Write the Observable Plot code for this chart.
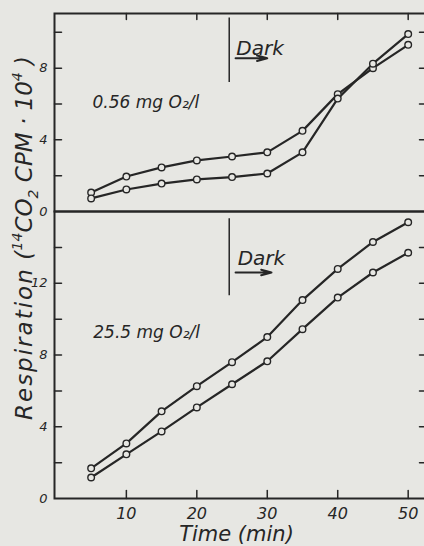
<!DOCTYPE html>
<html>
<head>
<meta charset="utf-8">
<script src="https://cdn.jsdelivr.net/npm/d3@7"></script>
<script src="https://cdn.jsdelivr.net/npm/@observablehq/plot@0.6"></script>
<style>
  html, body { margin: 0; padding: 0; background: #e7e7e3; overflow: hidden; }
  #fig { position: relative; width: 424px; height: 546px; overflow: hidden; background: #e7e7e3; }
  #fig svg { position: absolute; left: 0; max-width: none !important; }
</style>
</head>
<body>
<div id="fig"></div>
<script>
// Cumulative respiration (14CO2 CPM x 10^4), sampled every 5 min
const times = [5, 10, 15, 20, 25, 30, 35, 40, 45, 50];

// 0.56 mg O2/l
const lowO2SeriesA = [1.06, 1.95, 2.46, 2.85, 3.07, 3.30, 4.50, 6.55, 8.00, 9.30];
const lowO2SeriesB = [0.73, 1.23, 1.56, 1.79, 1.92, 2.12, 3.30, 6.30, 8.25, 9.90];

// 25.5 mg O2/l
const highO2SeriesA = [1.68, 3.07, 4.86, 6.26, 7.60, 9.00, 11.06, 12.80, 14.30, 15.40];
const highO2SeriesB = [1.17, 2.46, 3.74, 5.08, 6.37, 7.65, 9.44, 11.20, 12.60, 13.70];

// Axis ticks
const timeTicks = [10, 20, 30, 40, 50];
const lowLabelTicks = [0, 4, 8];
const highLabelTicks = [0, 4, 8, 12];
const lowTickMarks = [2, 4, 6, 8, 10];
const highTickMarks = [2, 4, 6, 8, 10, 12, 14];

// Onset of darkness (min)
const darkStart = 24.6;

const ink = "#262626";
const paper = "#e7e7e3";
const font = "DejaVu Sans, Verdana, sans-serif";

const rows = (a, b) => times.flatMap((t, i) => [
  {t, v: a[i], s: "A"},
  {t, v: b[i], s: "B"}
]);

// Short inward tick drawn along the vector direction
const tickShape = {draw(context, l) { context.moveTo(0, 0); context.lineTo(0, -l); }};

function tickMarks(yTicks, withTop, withBottom) {
  const marks = [
    Plot.vector(yTicks, {y: d => d, frameAnchor: "left", rotate: 90, length: 7, anchor: "start", shape: tickShape, stroke: ink, strokeWidth: 1.5}),
    Plot.vector(yTicks, {y: d => d, frameAnchor: "right", rotate: -90, length: 7, anchor: "start", shape: tickShape, stroke: ink, strokeWidth: 1.5})
  ];
  if (withTop) marks.push(Plot.vector(timeTicks, {x: d => d, frameAnchor: "top", rotate: 180, length: 6, anchor: "start", shape: tickShape, stroke: ink, strokeWidth: 1.5}));
  if (withBottom) marks.push(Plot.vector(timeTicks, {x: d => d, frameAnchor: "bottom", rotate: 0, length: 8, anchor: "start", shape: tickShape, stroke: ink, strokeWidth: 1.5}));
  return marks;
}

function series(data) {
  return [
    Plot.line(data, {x: "t", y: "v", z: "s", stroke: ink, strokeWidth: 2.2}),
    Plot.dot(data, {x: "t", y: "v", r: 3.3, stroke: ink, strokeWidth: 1.4, fill: paper})
  ];
}

function darkNote(x, y1, y2, textX, textY, arrowX1, arrowX2, arrowY) {
  return [
    Plot.ruleX([x], {y1, y2, stroke: ink, strokeWidth: 1.5}),
    Plot.text(["Dark"], {x: textX, y: textY, text: d => d, textAnchor: "start", lineAnchor: "bottom", fontSize: 20, fontStyle: "italic", fill: ink}),
    Plot.arrow([0], {x1: arrowX1, x2: arrowX2, y1: arrowY, y2: arrowY, stroke: ink, strokeWidth: 2, headLength: 8, headAngle: 30})
  ];
}

const baseStyle = {background: "transparent", color: ink, fontFamily: font, overflow: "visible", maxWidth: "none"};

// Upper panel: 0.56 mg O2/l
const topPanel = Plot.plot({
  width: 428, height: 212,
  marginLeft: 54, marginRight: 2, marginTop: 13, marginBottom: 1,
  x: {domain: [-0.2, 52.6], axis: null},
  y: {domain: [0, 11.05]},
  style: baseStyle,
  marks: [
    Plot.frame({stroke: ink, strokeWidth: 2}),
    Plot.axisY(lowLabelTicks, {tickSize: 0, tickPadding: 7, fontSize: 13, fontStyle: "italic", label: null}),
    ...tickMarks(lowTickMarks, true, false),
    ...darkNote(darkStart, 7.2, 10.8, 25.6, 8.76, 25.5, 30.0, 8.55),
    Plot.text(["0.56 mg O₂/l"], {x: 5.2, y: 5.75, text: d => d, textAnchor: "start", lineAnchor: "bottom", fontSize: 17, fontStyle: "italic", fill: ink}),
    ...series(rows(lowO2SeriesA, lowO2SeriesB))
  ]
});
topPanel.style.top = "0px";

// Lower panel: 25.5 mg O2/l
const bottomPanel = Plot.plot({
  width: 428, height: 336,
  marginLeft: 54, marginRight: 2, marginTop: 1, marginBottom: 48,
  x: {domain: [-0.2, 52.6]},
  y: {domain: [0, 16]},
  style: baseStyle,
  marks: [
    Plot.frame({stroke: ink, strokeWidth: 2}),
    Plot.axisY(highLabelTicks, {tickSize: 0, tickPadding: 7, fontSize: 13, fontStyle: "italic", label: null}),
    Plot.axisX(timeTicks, {tickSize: 0, tickPadding: 9, fontSize: 16, fontStyle: "italic", label: null}),
    ...tickMarks(highTickMarks, false, true),
    ...darkNote(darkStart, 11.3, 15.6, 25.8, 13.0, 25.5, 30.6, 12.6),
    Plot.text(["25.5 mg O₂/l"], {x: 5.3, y: 8.92, text: d => d, textAnchor: "start", lineAnchor: "bottom", fontSize: 17, fontStyle: "italic", fill: ink}),
    Plot.text(["Time (min)"], {frameAnchor: "bottom", dx: -4, dy: 42, text: d => d, lineAnchor: "bottom", fontSize: 21, fontStyle: "italic", fill: ink, style: "letter-spacing:1.3px"}),
    ...series(rows(highO2SeriesA, highO2SeriesB))
  ]
});
bottomPanel.style.top = "210px";

const fig = document.getElementById("fig");
fig.append(topPanel, bottomPanel);

// Shared y-axis title spanning both panels
const title = d3.select(fig).append("svg")
  .attr("width", 424).attr("height", 546)
  .style("top", "0px")
  .style("pointer-events", "none");
const t = title.append("text")
  .attr("transform", "translate(32,420) rotate(-90)")
  .attr("font-family", font)
  .attr("font-style", "italic")
  .attr("font-size", 23)
  .attr("fill", ink);
t.append("tspan").attr("letter-spacing", 2).text("Respiration");
t.append("tspan").attr("letter-spacing", 0.3).text(" (");
t.append("tspan").attr("font-size", 14).attr("dy", -10).text("14");
t.append("tspan").attr("dy", 10).text("CO");
t.append("tspan").attr("font-size", 14).attr("dy", 6).text("2");
t.append("tspan").attr("dy", -6).text(" CPM · 10");
t.append("tspan").attr("font-size", 14).attr("dy", -10).text("4");
t.append("tspan").attr("dy", 10).text(" )");
</script>
</body>
</html>
